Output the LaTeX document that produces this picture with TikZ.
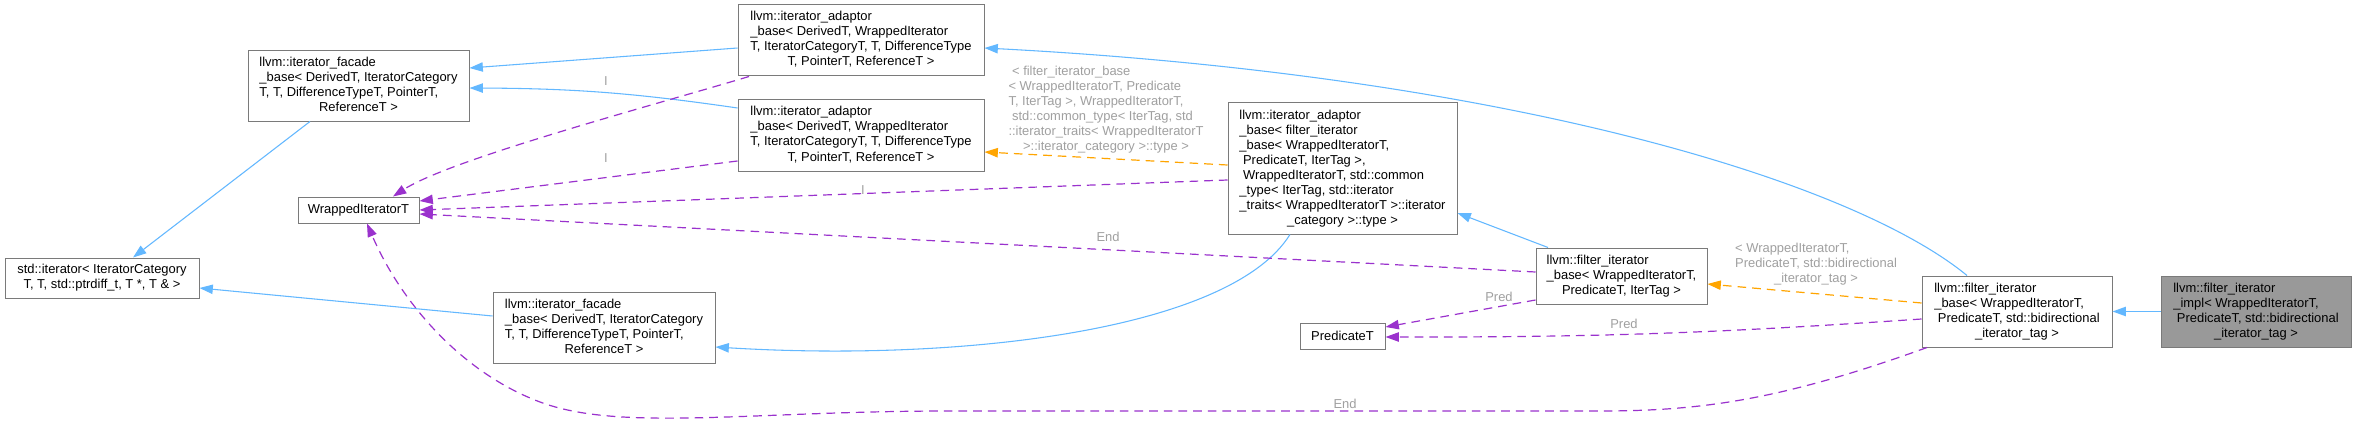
\documentclass[tikz,border=0pt]{standalone}
\usepackage{fontspec}
\setmainfont{Liberation Sans}
\usetikzlibrary{calc,arrows.meta}
\definecolor{inhblue}{HTML}{63B8FF}
\definecolor{usepurple}{HTML}{9A32CD}
\definecolor{tplorange}{HTML}{FFA500}
\definecolor{boxgray}{HTML}{7A7A7A}
\definecolor{implfill}{HTML}{999999}
\definecolor{labelgray}{HTML}{A0A0A0}
\newcommand\tabtxt[1]{\begin{tabular}{@{}l@{}}#1\end{tabular}}
\newcommand\lastln[1]{\multicolumn{1}{@{}c@{}}{#1}}
\begin{document}
\begin{tikzpicture}[x=0.75pt,y=-0.75pt,
  box/.style={draw=boxgray, line width=0.75pt, fill=white, inner sep=0pt,
    font=\fontsize{9.7}{11.25}\selectfont, text=black},
  lbl/.style={inner sep=0pt, font=\fontsize{9.7}{11.25}\selectfont, text=labelgray},
  tip/.style={-{Triangle[length=10pt,width=7pt]}},
  inh/.style={draw=inhblue, line width=0.8pt, tip},
  use/.style={draw=usepurple, line width=0.9pt, dash pattern=on 6.5pt off 4.5pt, tip},
  tpl/.style={draw=tplorange, line width=0.9pt, dash pattern=on 6.5pt off 4.5pt, tip}]
\fill[white] (0,0) rectangle (2356,428);
\useasboundingbox (0,0) rectangle (2356,428);

% nodes
\node[box, minimum width=145.5pt, minimum height=30pt] (stdit) at (102,278)
  {\tabtxt{std::iterator< IteratorCategory\\ \lastln{T, T, std::ptrdiff\_t, T *, T \& >}}};
\node[box, minimum width=165.75pt, minimum height=52.5pt] (fac1) at (358.5,86)
  {\tabtxt{llvm::iterator\_facade\\ \_base< DerivedT, IteratorCategory\\ T, T, DifferenceTypeT, PointerT,\\ \lastln{ReferenceT >}}};
\node[box, minimum width=90.75pt, minimum height=19.5pt] (wit) at (358.5,210) {WrappedIteratorT};
\node[box, minimum width=184.5pt, minimum height=53.25pt] (adp1) at (861,40.5)
  {\tabtxt{llvm::iterator\_adaptor\\ \_base< DerivedT, WrappedIterator\\ T, IteratorCategoryT, T, DifferenceType\\ \lastln{T, PointerT, ReferenceT >}}};
\node[box, minimum width=184.5pt, minimum height=53.25pt] (adp2) at (861,135.5)
  {\tabtxt{llvm::iterator\_adaptor\\ \_base< DerivedT, WrappedIterator\\ T, IteratorCategoryT, T, DifferenceType\\ \lastln{T, PointerT, ReferenceT >}}};
\node[box, minimum width=166.5pt, minimum height=53.25pt] (fac2) at (604,327.5)
  {\tabtxt{llvm::iterator\_facade\\ \_base< DerivedT, IteratorCategory\\ T, T, DifferenceTypeT, PointerT,\\ \lastln{ReferenceT >}}};
\node[box, minimum width=171.75pt, minimum height=98.25pt] (adp3) at (1342.5,168.5)
  {\tabtxt{llvm::iterator\_adaptor\\ \_base< filter\_iterator\\ \_base< WrappedIteratorT,\\ \ PredicateT, IterTag >,\\ \ WrappedIteratorT, std::common\\ \_type< IterTag, std::iterator\\ \_traits< WrappedIteratorT >::iterator\\ \lastln{\_category >::type >}}};
\node[box, minimum width=63.75pt, minimum height=19.5pt] (pred) at (1342.5,336) {PredicateT};
\node[box, minimum width=128.25pt, minimum height=42pt] (fb1) at (1621.5,276)
  {\tabtxt{llvm::filter\_iterator\\ \_base< WrappedIteratorT,\\ \lastln{PredicateT, IterTag >}}};
\node[box, minimum width=142.5pt, minimum height=53.25pt] (fb2) at (2017,311.5)
  {\tabtxt{llvm::filter\_iterator\\ \_base< WrappedIteratorT,\\ \ PredicateT, std::bidirectional\\ \lastln{\_iterator\_tag >}}};
\node[box, fill=implfill, minimum width=142.5pt, minimum height=53.25pt] (impl) at (2256,311.5)
  {\tabtxt{llvm::filter\_iterator\\ \_impl< WrappedIteratorT,\\ \ PredicateT, std::bidirectional\\ \lastln{\_iterator\_tag >}}};

% inheritance
\draw[inh] ($(fac1.south)+(-48.5,0)$) -- ($(stdit.north)+(31,0)$);
\draw[inh] ($(fac2.west)+(0,-11.5)$) -- ($(stdit.east)+(0,10)$);
\draw[inh] ($(adp1.west)+(0,7.5)$) -- ($(fac1.east)+(0,-18)$);
\draw[inh] ($(adp2.west)+(0,-27.5)$) to[bend right=4] ($(fac1.east)+(0,2)$);
\draw[inh] ($(adp3.south)+(-52.5,0)$) .. controls +(-60,96) and +(245,15) .. ($(fac2.east)+(0,19.5)$);
\draw[inh] ($(fb2.north)+(-50,0)$) .. controls +(-117,-96) and +(516,27) .. ($(adp1.east)+(0,7.5)$);
\draw[inh] ($(fb1.north)+(-73.5,0)$) -- ($(adp3.east)+(0,44.5)$);
\draw[inh] (impl.west) -- (fb2.east);

% template instances
\draw[tpl] ($(adp3.west)+(0,-3.5)$) -- ($(adp2.east)+(0,16.5)$);
\draw[tpl] ($(fb2.west)+(0,-8.5)$) -- ($(fb1.east)+(0,8)$);

% usage
\draw[use] ($(adp1.south)+(-112,0)$) .. controls +(-100,30) and +(57,-37) .. ($(wit.north)+(34.5,0)$);
\draw[use] ($(adp2.west)+(0,25.5)$) -- ($(wit.east)+(0,-9)$);
\draw[use] ($(adp3.west)+(0,11.5)$) -- (wit.east);
\draw[use] ($(fb1.west)+(0,-4)$) -- ($(wit.east)+(0,4)$);
\draw[use] ($(fb1.west)+(0,24)$) -- ($(pred.east)+(0,-9)$);
\draw[use] ($(fb2.west)+(0,7.5)$) to[bend left=2] ($(pred.east)+(0,1)$);
\draw[use] ($(fb2.south)+(-90,0)$) .. controls +(-147,53) and +(100,0) .. (1600,411)
  -- (950,411) .. controls +(-200,0) and +(80,30) .. (540,402)
  .. controls +(-80,-30) and +(33,77) .. ($(wit.south)+(8.5,0)$);

% edge labels
\node[lbl] (lI1) at (606,81) {I};
\node[lbl] (lI2) at (606,158) {I};
\node[lbl] (lI3) at (863,190) {I};
\node[lbl] (lEnd1) at (1108,237) {End};
\node[lbl] (lEnd2) at (1345,404) {End};
\node[lbl] (lPred1) at (1499,297) {Pred};
\node[lbl] (lPred2) at (1624,324) {Pred};
\node[lbl] (lTpl1) at (1106,109.5)
  {\tabtxt{\ < filter\_iterator\_base\\ < WrappedIteratorT, Predicate\\ T, IterTag >, WrappedIteratorT,\\ \ std::common\_type< IterTag, std\\ ::iterator\_traits< WrappedIteratorT\\ \lastln{>::iterator\_category >::type >}}};
\node[lbl] (lTpl2) at (1816,264)
  {\tabtxt{< WrappedIteratorT,\\ PredicateT, std::bidirectional\\ \lastln{\_iterator\_tag >}}};
\end{tikzpicture}
\end{document}
